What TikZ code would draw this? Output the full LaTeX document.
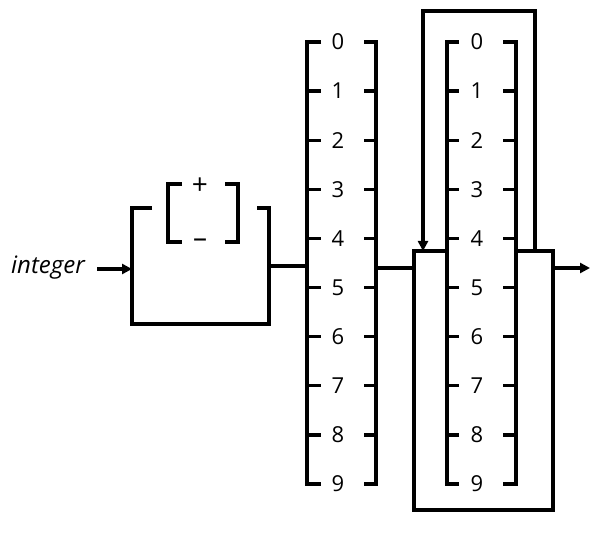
\documentclass[tikz,border=0pt]{standalone}
\usepackage{fontspec}
\setmainfont{Open Sans}
\usetikzlibrary{arrows.meta}
\begin{document}
\begin{tikzpicture}[x=1pt,y=-1pt,line width=3.3pt,line join=miter,
  digit/.style={font=\fontsize{22}{22}\selectfont,inner sep=0pt},
  sign/.style={font=\fontsize{28}{28}\selectfont,inner sep=0pt},
  arr/.style={-{Triangle[length=10pt,width=10pt]}},
  lineb/.style={line width=3.1pt}]
\useasboundingbox (0,0) rectangle (607,534);
% label
\node[font=\fontsize{24}{24}\selectfont\itshape,inner sep=0pt] (int) at (48,268) {integer};
\coordinate (inA) at (97,269);
\coordinate (box1L) at (132,269);
\draw[arr,lineb] (inA) -- (box1L);
% optional sign box
\draw (152,208) -- (132,208) -- (132,324) -- (269,324) -- (269,208) -- (257,208);
\draw (182,184) -- (168,184) -- (168,242) -- (182,242);
\draw (225,184) -- (238,184) -- (238,242) -- (225,242);
\node[sign] (plus) at (200,186) {+};
\node[sign] (minus) at (200,243) {–};
\coordinate (box1R) at (269,266);
\coordinate (col1L) at (307,266);
\draw (box1R) -- (col1L);
% column 1
\draw (321,42) -- (307,42) -- (307,484) -- (321,484);
\draw (364,42) -- (376,42) -- (376,484) -- (364,484);
\foreach \i in {0,...,9}{
  \pgfmathsetmacro{\yy}{42+\i*49.11}
  \node[digit] (d\i) at (338,\yy) {\i};
  \ifnum\i>0\ifnum\i<9
    \draw (307,\yy) -- (321,\yy);
    \draw (364,\yy) -- (376,\yy);
  \fi\fi
}
% column 2
\draw (459,42) -- (447,42) -- (447,484) -- (459,484);
\draw (503,42) -- (516,42) -- (516,484) -- (503,484);
\foreach \i in {0,...,9}{
  \pgfmathsetmacro{\yy}{42+\i*49.11}
  \node[digit] (e\i) at (477,\yy) {\i};
  \ifnum\i>0\ifnum\i<9
    \draw (447,\yy) -- (459,\yy);
    \draw (503,\yy) -- (516,\yy);
  \fi\fi
}
% repeat box
\draw[lineb] (447,251) -- (414,251) -- (414,510) -- (553,510) -- (553,251) -- (516,251);
\coordinate (col1R) at (376,268);
\coordinate (box2L) at (414,268);
\draw (col1R) -- (box2L);
\coordinate (loopS) at (535,251);
\coordinate (loopE) at (423,251);
\draw[arr,lineb] (loopS) -- (535,11) -- (423,11) -- (loopE);
\coordinate (box2R) at (553,268);
\coordinate (outE) at (590,268);
\draw[arr,lineb] (box2R) -- (outE);
\end{tikzpicture}
\end{document}
